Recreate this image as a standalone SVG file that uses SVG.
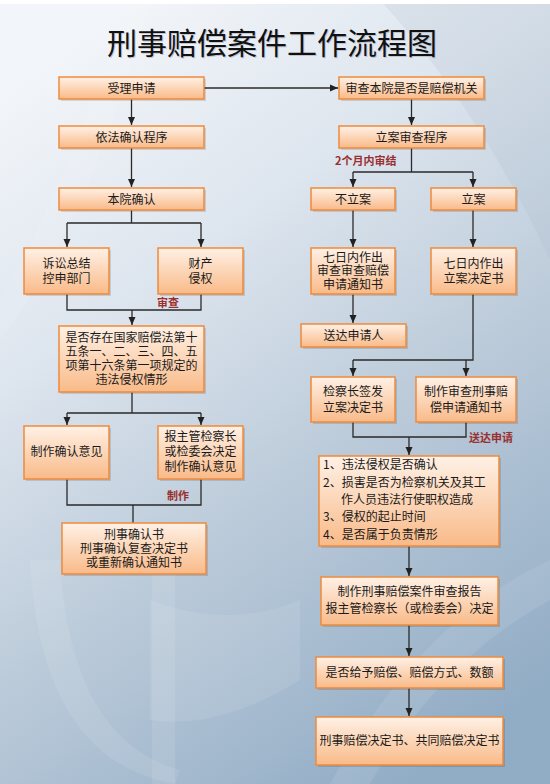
<svg xmlns="http://www.w3.org/2000/svg" width="550" height="784" viewBox="0 0 550 784">
<defs>
<linearGradient id="bg" x1="0.25" y1="0" x2="0.75" y2="1">
<stop offset="0" stop-color="#f2f5f9"/>
<stop offset="0.3" stop-color="#dde5ee"/>
<stop offset="0.6" stop-color="#bccbda"/>
<stop offset="1" stop-color="#91acc5"/>
</linearGradient>
<linearGradient id="box" x1="0" y1="0" x2="0" y2="1">
<stop offset="0" stop-color="#fff1e6"/>
<stop offset="1" stop-color="#f9ba88"/>
</linearGradient>
<marker id="arr" markerWidth="8" markerHeight="10" refX="8" refY="5" orient="auto" markerUnits="userSpaceOnUse">
<path d="M0,1.5 L8,5 L0,8.5 Z" fill="#222"/>
</marker>
</defs>
<style>
.b{fill:url(#box);stroke:#ee8a3c;stroke-width:1.5}
.s{fill:#000;opacity:0.12}
.t{font-family:"Noto Sans CJK SC","Liberation Sans",sans-serif;font-size:12px;fill:#1a1a1a;text-anchor:middle}
.tl{font-family:"Noto Sans CJK SC","Liberation Sans",sans-serif;font-size:12px;fill:#1a1a1a}
.lab{font-family:"Noto Sans CJK SC","Liberation Sans",sans-serif;font-size:11px;font-weight:bold;fill:#9a2f2f}
.c{fill:none;stroke:#2a2a2a;stroke-width:1.3}
.a{marker-end:url(#arr)}
.dec{fill:#ffffff;opacity:0.09}
</style>
<rect width="550" height="784" fill="url(#bg)"/>
<path class="dec" d="M30,560 L60,560 Q70,740 180,770 L175,784 Q40,760 30,560 Z"/>
<path class="dec" d="M152,560 L175,560 L175,784 L152,784 Z"/>
<path class="dec" d="M150,600 Q230,630 300,600 L300,680 Q220,730 150,720 Z"/>
<path class="dec" d="M0,300 Q60,200 130,0 L150,0 Q90,220 0,340 Z"/>
<path d="M380,0 L550,0 L550,260 Q480,110 380,0 Z" fill="#a5b7ca" opacity="0.18"/>
<path class="dec" d="M330,784 Q420,620 550,560 L550,600 Q440,660 370,784 Z"/>
<rect width="550" height="4" fill="#ffffff"/>
<text x="272" y="54" font-family="'Noto Sans CJK SC',sans-serif" font-size="30" fill="#aab" text-anchor="middle" opacity="0.6" transform="translate(1,1)">刑事赔偿案件工作流程图</text>
<text x="272" y="54" font-family="'Noto Sans CJK SC',sans-serif" font-size="30" fill="#111" text-anchor="middle">刑事赔偿案件工作流程图</text>

<g id="connectors">
<path class="c a" d="M204,88 H338"/>
<path class="c a" d="M131.5,99 V125"/>
<path class="c a" d="M411.5,99 V125"/>
<path class="c a" d="M131.5,148 V187"/>
<path class="c" d="M131.5,210 V223 M67,223 H201"/>
<path class="c a" d="M67,223 V247"/>
<path class="c a" d="M201,223 V247"/>
<path class="c" d="M67,294 V310 H201 V294"/>
<path class="c a" d="M132,310 V325"/>
<path class="c" d="M132,392 V413 M67,413 H201"/>
<path class="c a" d="M67,413 V425"/>
<path class="c a" d="M201,413 V425"/>
<path class="c" d="M67,479 V505 H201 V479 M133,505 V523"/>
<path class="c" d="M411.5,148 V172 M353,172 H473"/>
<path class="c a" d="M353,172 V187"/>
<path class="c a" d="M473,172 V187"/>
<path class="c a" d="M353,210 V247"/>
<path class="c a" d="M473,210 V247"/>
<path class="c a" d="M353,294 V323"/>
<path class="c" d="M473,294 V360 H353"/>
<path class="c a" d="M353,360 V376"/>
<path class="c a" d="M466,360 V376"/>
<path class="c" d="M353,422 V437 H466 V422"/>
<path class="c a" d="M409,437 V455"/>
<path class="c a" d="M409,546 V576"/>
<path class="c a" d="M409,625 V656"/>
<path class="c a" d="M409,688 V716"/>
</g>

<text class="lab" x="157" y="307">审查</text>
<text class="lab" x="167" y="500">制作</text>
<text class="lab" x="469" y="442">送达申请</text>
<text class="lab" x="335" y="165" font-size="12">2个月内审结</text>

<g id="n1"><rect class="s" x="61" y="79" width="145" height="22"/><rect class="b" x="59" y="77" width="145" height="22"/><text class="t" x="131.5" y="92.5">受理申请</text></g>
<g id="n2"><rect class="s" x="341" y="79" width="145" height="22"/><rect class="b" x="339" y="77" width="145" height="22"/><text class="t" x="411.5" y="92.5">审查本院是否是赔偿机关</text></g>
<g id="n3"><rect class="s" x="61" y="128" width="145" height="22"/><rect class="b" x="59" y="126" width="145" height="22"/><text class="t" x="131.5" y="141.5">依法确认程序</text></g>
<g id="n4"><rect class="s" x="341" y="128" width="145" height="22"/><rect class="b" x="339" y="126" width="145" height="22"/><text class="t" x="411.5" y="141.5">立案审查程序</text></g>
<g id="n5"><rect class="s" x="61" y="190" width="145" height="22"/><rect class="b" x="59" y="188" width="145" height="22"/><text class="t" x="131.5" y="203.5">本院确认</text></g>
<g id="n6"><rect class="s" x="313" y="190" width="84" height="22"/><rect class="b" x="311" y="188" width="84" height="22"/><text class="t" x="353" y="203.5">不立案</text></g>
<g id="n7"><rect class="s" x="433" y="190" width="85" height="22"/><rect class="b" x="431" y="188" width="85" height="22"/><text class="t" x="473.5" y="203.5">立案</text></g>
<g id="n8"><rect class="s" x="26" y="250" width="85" height="46"/><rect class="b" x="24" y="248" width="85" height="46"/><text class="t" x="66.5" y="268">诉讼总结</text><text class="t" x="66.5" y="283">控申部门</text></g>
<g id="n9"><rect class="s" x="160" y="250" width="85" height="46"/><rect class="b" x="158" y="248" width="85" height="46"/><text class="t" x="200.5" y="268">财产</text><text class="t" x="200.5" y="283">侵权</text></g>
<g id="n10"><rect class="s" x="313" y="250" width="84" height="46"/><rect class="b" x="311" y="248" width="84" height="46"/><text class="t" x="353" y="261.5">七日内作出</text><text class="t" x="353" y="275">审查审查赔偿</text><text class="t" x="353" y="289">申请通知书</text></g>
<g id="n11"><rect class="s" x="433" y="250" width="85" height="46"/><rect class="b" x="431" y="248" width="85" height="46"/><text class="t" x="473.5" y="268">七日内作出</text><text class="t" x="473.5" y="282.5">立案决定书</text></g>
<g id="n12"><rect class="s" x="303" y="326" width="105" height="23"/><rect class="b" x="301" y="324" width="105" height="23"/><text class="t" x="353.5" y="340">送达申请人</text></g>
<g id="n13"><rect class="s" x="61" y="328" width="145" height="66"/><rect class="b" x="59" y="326" width="145" height="66"/><text class="t" x="131.5" y="342" font-size="11.5">是否存在国家赔偿法第十</text><text class="t" x="131.5" y="356" font-size="11.5">五条一、二、三、四、五</text><text class="t" x="131.5" y="370" font-size="11.5">项第十六条第一项规定的</text><text class="t" x="131.5" y="384" font-size="11.5">违法侵权情形</text></g>
<g id="n14"><rect class="s" x="313" y="379" width="84" height="45"/><rect class="b" x="311" y="377" width="84" height="45"/><text class="t" x="353" y="396">检察长签发</text><text class="t" x="353" y="412">立案决定书</text></g>
<g id="n15"><rect class="s" x="418" y="379" width="100" height="45"/><rect class="b" x="416" y="377" width="100" height="45"/><text class="t" x="466" y="396">制作审查刑事赔</text><text class="t" x="466" y="412">偿申请通知书</text></g>
<g id="n16"><rect class="s" x="26" y="428" width="85" height="53"/><rect class="b" x="24" y="426" width="85" height="53"/><text class="t" x="66.5" y="456">制作确认意见</text></g>
<g id="n17"><rect class="s" x="160" y="428" width="85" height="53"/><rect class="b" x="158" y="426" width="85" height="53"/><text class="t" x="200.5" y="440.5">报主管检察长</text><text class="t" x="200.5" y="456">或检委会决定</text><text class="t" x="200.5" y="471">制作确认意见</text></g>
<g id="n18"><rect class="s" x="321" y="458" width="180" height="90"/><rect class="b" x="319" y="456" width="180" height="90"/>
<text class="tl" x="323" y="469">1、违法侵权是否确认</text>
<text class="tl" x="323" y="487">2、损害是否为检察机关及其工</text>
<text class="tl" x="341" y="504">作人员违法行使职权造成</text>
<text class="tl" x="323" y="521">3、侵权的起止时间</text>
<text class="tl" x="323" y="539">4、是否属于负责情形</text></g>
<g id="n19"><rect class="s" x="64" y="525" width="144" height="51"/><rect class="b" x="62" y="523" width="144" height="51"/><text class="t" x="134" y="538.5">刑事确认书</text><text class="t" x="134" y="552.5">刑事确认复查决定书</text><text class="t" x="134" y="567">或重新确认通知书</text></g>
<g id="n20"><rect class="s" x="323" y="579" width="177" height="48"/><rect class="b" x="321" y="577" width="177" height="48"/><text class="t" x="409.5" y="596">制作刑事赔偿案件审查报告</text><text class="t" x="409.5" y="613">报主管检察长（或检委会）决定</text></g>
<g id="n21"><rect class="s" x="318" y="659" width="187" height="31"/><rect class="b" x="316" y="657" width="187" height="31"/><text class="t" x="409.5" y="676.5">是否给予赔偿、赔偿方式、数额</text></g>
<g id="n22"><rect class="s" x="318" y="719" width="187" height="48"/><rect class="b" x="316" y="717" width="187" height="48"/><text class="t" x="409.5" y="745">刑事赔偿决定书、共同赔偿决定书</text></g>
</svg>
